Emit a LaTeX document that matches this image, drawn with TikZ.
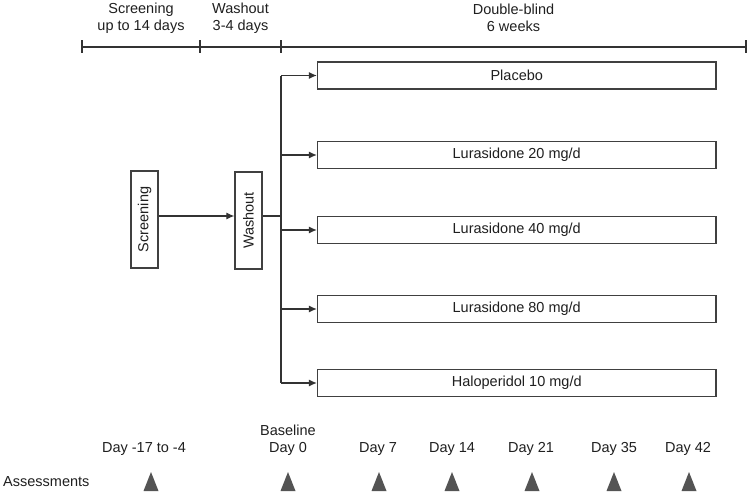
\documentclass[tikz,border=0pt]{standalone}
\usepackage{fontspec}
\setmainfont{Liberation Sans}
\usetikzlibrary{arrows.meta}
\begin{document}
\begin{tikzpicture}[x=1pt,y=-1pt,
  txt/.style={text=black!88, font=\fontsize{14.5}{17}\selectfont, inner sep=0pt, align=center},
  box/.style={draw=black!75, line width=1.3pt, fill=white, txt},
  arm/.style={box, minimum width=398.5pt, minimum height=27pt},
  vbox/.style={box, rotate=90, minimum width=97pt, minimum height=27pt},
  ln/.style={draw=black!80, line width=1.1pt},
  arr/.style={ln, -{Latex[length=8pt,width=7pt]}},
  trifill/.style={fill=black!67}
]
\useasboundingbox (0,0) rectangle (749,493);

% timeline
\draw[ln] (82,47) -- (746,47);
\foreach \x in {82,200,281,746} \draw[ln] (\x,40) -- (\x,53);
\node[txt] (hs) at (141,18) {Screening\\up to 14 days};
\node[txt] (hw) at (240.5,18) {Washout\\3-4 days};
\node[txt] (hd) at (513.5,18) {Double-blind\\6 weeks};

% screening / washout
\node[vbox] (scr) at (144.5,219.5) {Screening};
\node[vbox] (wash) at (248.5,220.5) {Washout};
\coordinate (ay) at (0,216);
\draw[arr] (scr.south |- ay) -- (wash.north |- ay);
\coordinate (jn) at (281,216);
\draw[ln] (wash.south |- ay) -- (jn);

% arms
\node[arm] (a1) at (516.75,75.5) {Placebo};
\node[arm] (a2) at (516.75,155) {Lurasidone 20 mg/d};
\node[arm] (a3) at (516.75,230) {Lurasidone 40 mg/d};
\node[arm] (a4) at (516.75,309) {Lurasidone 80 mg/d};
\node[arm] (a5) at (516.75,383) {Haloperidol 10 mg/d};
\coordinate (vt) at (281,75.5);
\coordinate (vb) at (281,383);
\draw[ln] (vt) -- (vb);
\foreach \a in {a1,a2,a3,a4,a5} \draw[arr] (vt |- \a.west) -- (\a.west);

% days
\node[txt] (d0) at (144,449) {Day -17 to -4};
\node[txt] (d1) at (288,440) {Baseline\\Day 0};
\node[txt] (d2) at (378,449) {Day 7};
\node[txt] (d3) at (452,449) {Day 14};
\node[txt] (d4) at (531,449) {Day 21};
\node[txt] (d5) at (614,449) {Day 35};
\node[txt] (d6) at (688,449) {Day 42};
\node[txt, anchor=west] (as) at (3,482) {Assessments};
\foreach \x in {151,288,379,452,532,614,689}
  \fill[trifill] (\x-7.5,491) -- (\x,472) -- (\x+7.5,491) -- cycle;
\end{tikzpicture}
\end{document}
